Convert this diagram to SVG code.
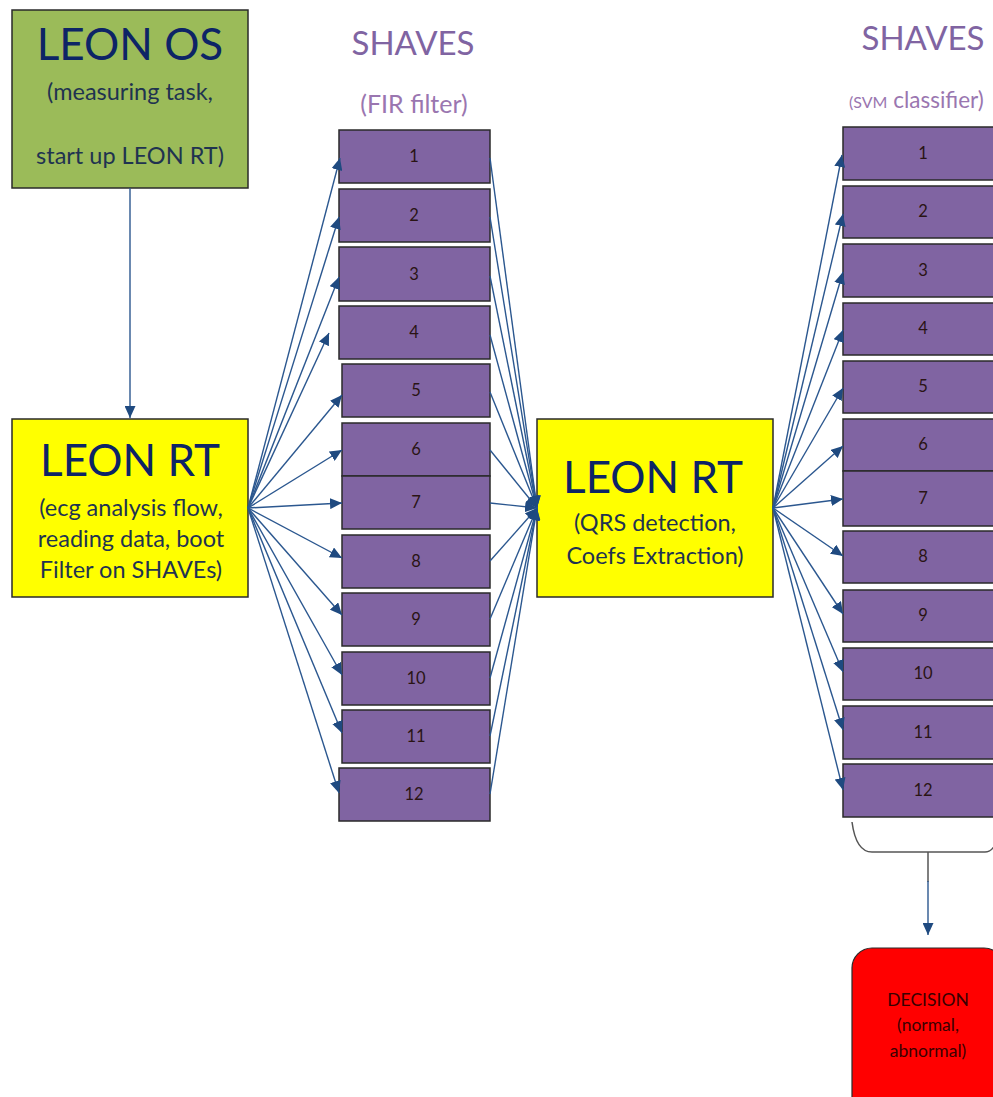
<svg xmlns="http://www.w3.org/2000/svg" width="993" height="1097" viewBox="0 0 993 1097">
<style>
  text { font-family: Lato, "Open Sans", "Liberation Sans", sans-serif; }
  .big { font-size: 44px; fill: #0D2466; text-anchor: middle; }
  .sub { font-size: 23.5px; fill: #1F3350; text-anchor: middle; }
  .shave rect { fill: #8064A2; stroke: #2A2A2A; stroke-width: 1.5; }
  .shave text { font-size: 16.5px; fill: #2A1414; text-anchor: middle; }
  .title { font-size: 33px; fill: #8064A2; text-anchor: middle; }
  .stitle { font-size: 25px; fill: #9A76B0; text-anchor: middle; }
  .dec { font-size: 17.5px; fill: #3A0000; text-anchor: middle; }
  .conn line, .conn path { stroke: #2B578F; stroke-width: 1.4; fill: none; }
</style>
<defs>
  <marker id="ah" markerUnits="userSpaceOnUse" markerWidth="13" markerHeight="11" refX="12" refY="5.5" orient="auto">
    <path d="M0,0 L12,5.5 L0,11 z" fill="#1F4A80"/>
  </marker>
</defs>
<rect width="993" height="1097" fill="#FFFFFF"/>

<g id="leon-os">
  <rect x="12" y="10" width="236" height="178" fill="#9BBB59" stroke="#2A2A2A" stroke-width="1.5"/>
  <text class="big" x="130" y="60">LEON OS</text>
  <text class="sub" x="130" y="100">(measuring task,</text>
  <text class="sub" x="130" y="164">start up LEON RT)</text>
</g>

<g id="leon-rt-1">
  <rect x="12" y="419" width="236" height="178" fill="#FFFF00" stroke="#2A2A2A" stroke-width="1.5"/>
  <text class="big" x="130" y="476">LEON RT</text>
  <text class="sub" x="131" y="516">(ecg analysis flow,</text>
  <text class="sub" x="131" y="547">reading data, boot</text>
  <text class="sub" x="131" y="578">Filter on SHAVEs)</text>
</g>

<g id="leon-rt-2">
  <rect x="537" y="419" width="236" height="178" fill="#FFFF00" stroke="#2A2A2A" stroke-width="1.5"/>
  <text class="big" x="653" y="493">LEON RT</text>
  <text class="sub" x="655" y="531">(QRS detection,</text>
  <text class="sub" x="655" y="564">Coefs Extraction)</text>
</g>

<g id="shaves-fir-title">
  <text class="title" x="413" y="55">SHAVES</text>
  <text class="stitle" x="414" y="113">(FIR filter)</text>
</g>
<g id="shaves-svm-title">
  <text class="title" x="923" y="50">SHAVES</text>
  <text class="stitle" x="849" y="108" style="font-size:22.5px;text-anchor:start"><tspan style="font-size:16px">(SVM</tspan> classifier)</text>
</g>

<g id="shaves-fir" class="shave">
  <g id="fir-1"><rect x="339" y="130" width="151" height="53"/><text x="414" y="162">1</text></g>
  <g id="fir-2"><rect x="339" y="189" width="151" height="53"/><text x="414" y="221">2</text></g>
  <g id="fir-3"><rect x="339" y="247" width="151" height="54"/><text x="414" y="280">3</text></g>
  <g id="fir-4"><rect x="339" y="306" width="151" height="53"/><text x="414" y="338">4</text></g>
  <g id="fir-5"><rect x="342" y="364" width="148" height="53"/><text x="416" y="396">5</text></g>
  <g id="fir-6"><rect x="342" y="423" width="148" height="53"/><text x="416" y="455">6</text></g>
  <g id="fir-7"><rect x="342" y="476" width="148" height="53"/><text x="416" y="508">7</text></g>
  <g id="fir-8"><rect x="342" y="535" width="148" height="53"/><text x="416" y="567">8</text></g>
  <g id="fir-9"><rect x="342" y="593" width="148" height="53"/><text x="416" y="625">9</text></g>
  <g id="fir-10"><rect x="342" y="652" width="148" height="53"/><text x="416" y="684">10</text></g>
  <g id="fir-11"><rect x="342" y="710" width="148" height="53"/><text x="416" y="742">11</text></g>
  <g id="fir-12"><rect x="339" y="768" width="151" height="53"/><text x="414" y="800">12</text></g>
</g>

<g id="shaves-svm" class="shave">
  <g id="svm-1"><rect x="843" y="127" width="160" height="53"/><text x="923" y="159">1</text></g>
  <g id="svm-2"><rect x="843" y="186" width="160" height="52"/><text x="923" y="217">2</text></g>
  <g id="svm-3"><rect x="843" y="244" width="160" height="53"/><text x="923" y="276">3</text></g>
  <g id="svm-4"><rect x="843" y="303" width="160" height="52"/><text x="923" y="334">4</text></g>
  <g id="svm-5"><rect x="843" y="361" width="160" height="52"/><text x="923" y="392">5</text></g>
  <g id="svm-6"><rect x="843" y="419" width="160" height="52"/><text x="923" y="450">6</text></g>
  <g id="svm-7"><rect x="843" y="471" width="160" height="55"/><text x="923" y="504">7</text></g>
  <g id="svm-8"><rect x="843" y="531" width="160" height="52"/><text x="923" y="562">8</text></g>
  <g id="svm-9"><rect x="843" y="590" width="160" height="52"/><text x="923" y="621">9</text></g>
  <g id="svm-10"><rect x="843" y="648" width="160" height="52"/><text x="923" y="679">10</text></g>
  <g id="svm-11"><rect x="843" y="706" width="160" height="53"/><text x="923" y="738">11</text></g>
  <g id="svm-12"><rect x="843" y="764" width="160" height="53"/><text x="923" y="796">12</text></g>
</g>

<g id="decision">
  <rect x="852" y="948" width="152" height="170" rx="20" ry="20" fill="#FF0000" stroke="#2A2A2A" stroke-width="1.2"/>
  <text class="dec" x="928" y="1006">DECISION</text>
  <text class="dec" x="928" y="1031">(normal,</text>
  <text class="dec" x="928" y="1057">abnormal)</text>
</g>

<g id="connectors" class="conn">
  <line x1="130" y1="188" x2="130" y2="418" marker-end="url(#ah)"/>
  <!-- LEON RT 1 fan to FIR shaves -->
  <line x1="248" y1="508" x2="340" y2="158" marker-end="url(#ah)"/>
  <line x1="248" y1="508" x2="339" y2="217" marker-end="url(#ah)"/>
  <line x1="248" y1="508" x2="339" y2="277" marker-end="url(#ah)"/>
  <line x1="248" y1="508" x2="329" y2="333" marker-end="url(#ah)"/>
  <line x1="248" y1="508" x2="342" y2="395" marker-end="url(#ah)"/>
  <line x1="248" y1="508" x2="342" y2="450" marker-end="url(#ah)"/>
  <line x1="248" y1="508" x2="342" y2="503" marker-end="url(#ah)"/>
  <line x1="248" y1="508" x2="342" y2="558" marker-end="url(#ah)"/>
  <line x1="248" y1="508" x2="342" y2="615" marker-end="url(#ah)"/>
  <line x1="248" y1="508" x2="342" y2="675" marker-end="url(#ah)"/>
  <line x1="248" y1="508" x2="342" y2="733" marker-end="url(#ah)"/>
  <line x1="248" y1="508" x2="339" y2="793" marker-end="url(#ah)"/>
  <!-- FIR shaves to LEON RT 2 -->
  <line x1="490" y1="158" x2="537" y2="508" marker-end="url(#ah)"/>
  <line x1="490" y1="217" x2="537" y2="508" marker-end="url(#ah)"/>
  <line x1="490" y1="276" x2="537" y2="508" marker-end="url(#ah)"/>
  <line x1="490" y1="335" x2="537" y2="508" marker-end="url(#ah)"/>
  <line x1="490" y1="392" x2="537" y2="508" marker-end="url(#ah)"/>
  <line x1="490" y1="450" x2="537" y2="508" marker-end="url(#ah)"/>
  <line x1="490" y1="503" x2="537" y2="508" marker-end="url(#ah)"/>
  <line x1="490" y1="561" x2="537" y2="508" marker-end="url(#ah)"/>
  <line x1="490" y1="619" x2="537" y2="508" marker-end="url(#ah)"/>
  <line x1="490" y1="678" x2="537" y2="508" marker-end="url(#ah)"/>
  <line x1="490" y1="736" x2="537" y2="508" marker-end="url(#ah)"/>
  <line x1="490" y1="794" x2="537" y2="508" marker-end="url(#ah)"/>
  <!-- LEON RT 2 fan to SVM shaves -->
  <line x1="773" y1="508" x2="842" y2="155" marker-end="url(#ah)"/>
  <line x1="773" y1="508" x2="843" y2="214" marker-end="url(#ah)"/>
  <line x1="773" y1="508" x2="843" y2="272" marker-end="url(#ah)"/>
  <line x1="773" y1="508" x2="843" y2="330" marker-end="url(#ah)"/>
  <line x1="773" y1="508" x2="843" y2="388" marker-end="url(#ah)"/>
  <line x1="773" y1="508" x2="843" y2="446" marker-end="url(#ah)"/>
  <line x1="773" y1="508" x2="843" y2="499" marker-end="url(#ah)"/>
  <line x1="773" y1="508" x2="843" y2="556" marker-end="url(#ah)"/>
  <line x1="773" y1="508" x2="843" y2="614" marker-end="url(#ah)"/>
  <line x1="773" y1="508" x2="843" y2="672" marker-end="url(#ah)"/>
  <line x1="773" y1="508" x2="843" y2="730" marker-end="url(#ah)"/>
  <line x1="773" y1="508" x2="843" y2="790" marker-end="url(#ah)"/>
  <!-- brace and arrow to decision -->
  <path d="M852,822 Q856,852 872,852 L985,852 Q993,852 997,840" style="stroke:#555555;stroke-width:1.5"/>
  <line x1="928" y1="852" x2="928" y2="882" style="stroke:#555555;stroke-width:1.5"/>
  <line x1="928" y1="881" x2="928" y2="935" marker-end="url(#ah)"/>
</g>
</svg>
